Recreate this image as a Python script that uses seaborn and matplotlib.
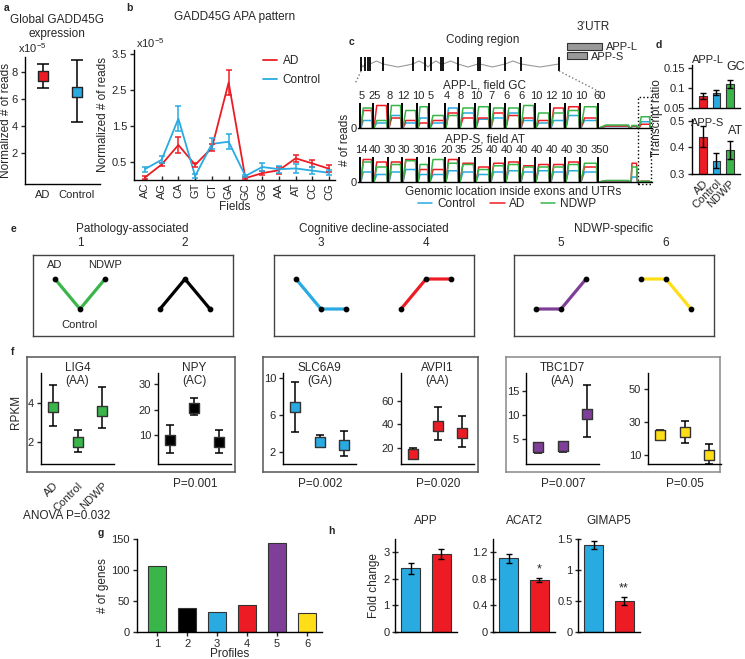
import numpy as np
import pandas as pd
import matplotlib
matplotlib.use("Agg")
import matplotlib.pyplot as plt
from matplotlib.patches import Rectangle
import seaborn as sns

# ---------------- data ----------------
RED, BLUE, GREEN = "#ED1C24", "#29ABE2", "#39B54A"
PURPLE, YELLOW, BLACK = "#7F3F98", "#FFDE17", "#000000"

# a: global expression
a_groups = ["AD", "Control"]
a_mean = [7.7, 6.5]
a_low = [6.8, 4.3]
a_high = [8.6, 8.9]

# b: APA pattern per field
b_fields = ["AC", "AG", "CA", "GT", "CT", "GA", "GC", "GG", "AA", "AT", "CC", "CG"]
b_ad = [0.07, 0.43, 0.97, 0.42, 0.89, 2.70, 0.05, 0.19, 0.27, 0.60, 0.46, 0.31]
b_ad_err = [0.04, 0.05, 0.22, 0.06, 0.10, 0.35, 0.03, 0.05, 0.10, 0.10, 0.10, 0.10]
b_ctrl = [0.30, 0.56, 1.70, 0.11, 1.00, 1.06, 0.11, 0.36, 0.30, 0.32, 0.26, 0.20]
b_ctrl_err = [0.07, 0.10, 0.35, 0.05, 0.15, 0.20, 0.04, 0.12, 0.10, 0.12, 0.10, 0.07]

# c: gene model and read coverage
exon_pos = [1, 5, 8, 10, 23, 53, 65, 71, 81, 83, 98, 118, 120, 145, 161, 199]
utr_len = [35, 20]
seg_len = [13, 15, 14, 15, 12, 16, 14, 16, 15, 15, 15, 15, 15, 15, 15, 18, 32, 8, 13]
appl_max = ["5", "25", "8", "12", "10", "5", "4", "8", "10", "7", "6", "6",
            "10", "12", "10", "10", "60"]
apps_max = ["14", "40", "30", "30", "30", "16", "20", "35", "25", "40", "40", "40",
            "40", "40", "40", "30", "350"]
appl_red = [0.70, 0.90, 0.40, 0.30, 0.20, 0.30, 0.60, 0.40, 0.40, 0.60, 0.50, 0.40,
            0.30, 0.80, 0.85, 0.40, 0.08, 0.08, 0.15]
appl_blue = [0.30, 0.20, 0.50, 0.20, 0.40, 0.20, 0.80, 0.60, 0.35, 0.40, 0.60, 0.30,
             0.20, 0.30, 0.50, 0.30, 0.06, 0.06, 0.25]
appl_green = [0.80, 0.30, 0.90, 0.70, 0.85, 0.50, 0.50, 0.80, 0.85, 0.80, 0.80, 0.90,
              0.60, 0.60, 0.70, 0.85, 0.12, 0.10, 0.45]
apps_red = [0.90, 0.80, 0.80, 0.90, 0.50, 0.50, 0.90, 0.75, 0.60, 0.75, 0.80, 0.65,
            0.70, 0.70, 0.80, 0.60, 0.05, 0.75, 0.03]
apps_blue = [0.40, 0.30, 0.40, 0.50, 0.30, 0.30, 0.45, 0.40, 0.30, 0.40, 0.45, 0.40,
             0.45, 0.40, 0.45, 0.40, 0.04, 0.20, 0.02]
apps_green = [0.80, 0.60, 0.70, 0.85, 0.70, 0.90, 0.75, 0.70, 0.50, 0.65, 0.70, 0.60,
              0.60, 0.60, 0.70, 0.75, 0.06, 0.60, 0.03]

# d: transcript ratio
d_groups = ["AD", "Control", "NDWP"]
d_appl = [0.080, 0.088, 0.110]
d_appl_err = [0.008, 0.006, 0.010]
d_apps = [0.440, 0.350, 0.390]
d_apps_err = [0.040, 0.028, 0.035]

# e: profiles
profile_levels = [[1, 0, 1], [0, 1, 0], [1, 0, 0], [0, 1, 1], [0, 0, 1], [1, 1, 0]]
profile_colors = [GREEN, BLACK, BLUE, RED, PURPLE, YELLOW]
e_titles = ["Pathology-associated", "Cognitive decline-associated", "NDWP-specific"]

# f: example genes
f_titles = ["LIG4\n(AA)", "NPY\n(AC)", "SLC6A9\n(GA)", "AVPI1\n(AA)", "TBC1D7\n(AA)", ""]
f_mean = [[3.8, 2.0, 3.6], [8.0, 20.5, 7.5], [6.8, 3.1, 2.8],
          [15, 39, 32.5], [3.3, 3.5, 10.3], [22, 24, 10]]
f_low = [[2.8, 1.5, 2.7], [3.0, 17.8, 3.0], [4.2, 2.6, 1.6],
         [12, 27, 21], [2.0, 2.3, 5.4], [19.5, 17, 4.5]]
f_high = [[4.9, 2.6, 4.8], [13.8, 24.5, 12.2], [9.5, 3.8, 4.3],
          [20, 55, 47], [4.0, 4.2, 16.2], [25, 30.5, 16.5]]
f_yticks = [[2, 4], [10, 20, 30], [2, 6, 10], [20, 40, 60], [5, 10, 15], [10, 30, 50]]
f_pvals = ["", "P=0.001", "P=0.002", "P=0.020", "P=0.007", "P=0.05"]

# g: genes per profile
g_profiles = ["1", "2", "3", "4", "5", "6"]
g_counts = [106, 38, 32, 43, 144, 31]

# h: qPCR
h_genes = ["APP", "ACAT2", "GIMAP5"]
h_ctrl = [2.40, 1.11, 1.40]
h_ctrl_err = [0.20, 0.07, 0.06]
h_ad = [2.93, 0.78, 0.50]
h_ad_err = [0.20, 0.03, 0.065]
h_stars = ["", "*", "**"]

# ---------------- style ----------------
sns.set_style("ticks")
plt.rcParams.update({
    "font.family": ["Liberation Sans", "DejaVu Sans"],
    "font.size": 8,
    "axes.linewidth": 1.0,
    "axes.edgecolor": "black",
    "xtick.major.size": 3, "ytick.major.size": 3,
    "xtick.major.width": 1.0, "ytick.major.width": 1.0,
    "xtick.major.pad": 2, "ytick.major.pad": 2,
    "xtick.labelsize": 8, "ytick.labelsize": 8,
    "axes.labelsize": 8.5,
    "mathtext.default": "regular",
})

W, H = 745, 659
fig = plt.figure(figsize=(W / 100, H / 100), dpi=100)


def px(x0, y0, x1, y1):
    return [x0 / W, 1 - y1 / H, (x1 - x0) / W, (y1 - y0) / H]


def ftext(x, y, s, **kw):
    kw.setdefault("ha", "center")
    kw.setdefault("va", "center")
    return fig.text(x / W, 1 - y / H, s, **kw)


def letter(x, y, s):
    ftext(x, y, s, fontsize=7.5, fontweight="bold", ha="left")


# ---------------- a ----------------
ax = fig.add_axes(px(25, 57, 100, 184))
a_df = pd.DataFrame({"x": [0, 1], "group": a_groups, "mean": a_mean})
ax.errorbar(a_df["x"], a_mean,
            yerr=[np.subtract(a_mean, a_low), np.subtract(a_high, a_mean)],
            fmt="none", ecolor="black", elinewidth=1.1, capsize=4, capthick=1.1, zorder=1)
sns.scatterplot(data=a_df, x="x", y="mean", hue="group", palette=[RED, BLUE], marker="s",
                s=55, edgecolor="#222222", linewidth=1, legend=False, ax=ax, zorder=3)
ax.set_xlim(-0.53, 1.68)
ax.set_ylim(-0.3, 9.1)
ax.set_xticks([0, 1], a_groups)
ax.tick_params(axis="x", length=0, pad=4)
ax.set_yticks([2, 4, 6, 8])
ax.set_xlabel("")
ax.set_ylabel("Normalized # of reads")
ax.yaxis.set_label_coords(-0.17, 0.5)
sns.despine(ax=ax)
ftext(57, 27, "Global GADD45G\nexpression", fontsize=8.5, linespacing=1.3)
ftext(18, 48, r"x10$^{-5}$", ha="left")
letter(4, 8, "a")

# ---------------- b ----------------
ax = fig.add_axes(px(134, 50, 335, 180))
b_df = pd.DataFrame({"x": list(range(12)) * 2, "value": b_ad + b_ctrl,
                     "err": b_ad_err + b_ctrl_err,
                     "group": ["AD"] * 12 + ["Control"] * 12})
sns.lineplot(data=b_df, x="x", y="value", hue="group", palette=[RED, BLUE],
             linewidth=1.3, ax=ax)
for g, col in zip(["AD", "Control"], [RED, BLUE]):
    sub = b_df[b_df["group"] == g]
    ax.errorbar(sub["x"], sub["value"], yerr=sub["err"], fmt="none", ecolor=col,
                elinewidth=1.1, capsize=2.5, capthick=1.1)
ax.set_xlim(-0.65, 11.35)
ax.set_ylim(0, 3.6)
ax.set_xticks(range(12), b_fields, rotation=90)
ax.set_yticks([0.5, 1.5, 2.5, 3.5])
ax.tick_params(axis="x", direction="in")
ax.set_xlabel("Fields", labelpad=1)
ax.set_ylabel("Normalized # of reads", labelpad=2)
hd, lb = ax.get_legend_handles_labels()
ax.legend(hd, lb, loc="upper left", bbox_to_anchor=(0.64, 0.96), frameon=False,
          handlelength=1.2, handletextpad=0.5, labelspacing=0.6, borderpad=0,
          borderaxespad=0, fontsize=8.5)
sns.despine(ax=ax)
ftext(235, 17, "GADD45G APA pattern", fontsize=8.5)
ftext(136, 43, r"x10$^{-5}$", ha="left")
letter(126, 8, "b")

# ---------------- c ----------------
axg = fig.add_axes(px(355, 20, 655, 80))
axg.set_xlim(-5, 295)
axg.set_ylim(60, 0)
axg.axis("off")
for i in range(len(exon_pos) - 1):
    x0, x1 = exon_pos[i], exon_pos[i + 1]
    if x1 - x0 > 3:
        bend = 3 if i % 2 == 0 else -3
        axg.plot([x0, (x0 + x1) / 2, x1], [44, 44 + bend, 44], color="#9a9a9a", lw=0.8)
axg.vlines(exon_pos, 37, 51, color="black", lw=1.3)
axg.add_patch(Rectangle((207, 23), utr_len[0], 7, fc="#999999", ec="#333333", lw=0.8))
axg.add_patch(Rectangle((207, 32), utr_len[1], 7, fc="#999999", ec="#333333", lw=0.8))
axg.text(123, 20, "Coding region", ha="center", va="center", fontsize=8.5)
axg.text(233, 7, "3\u2019UTR", ha="center", va="center", fontsize=8.5)
axg.text(246, 26.5, "APP-L", ha="left", va="center", fontsize=8)
axg.text(231, 37, "APP-S", ha="left", va="center", fontsize=8)

starts = np.concatenate([[0], np.cumsum(seg_len)[:-1]])
total = sum(seg_len)
axg.plot([exon_pos[0], exon_pos[0] - 6], [51, 64], ls=":", color="#777777", lw=1,
         clip_on=False)
axg.plot([exon_pos[-1], starts[16] + 2], [51, 72], ls=":", color="#777777", lw=1,
         clip_on=False)

tracks = [
    (103, 128, "APP-L, field GC", appl_max, [appl_blue, appl_red, appl_green]),
    (157, 182, "APP-S, field AT", apps_max, [apps_blue, apps_red, apps_green]),
]
for y0, y1, title, maxes, levels in tracks:
    ax = fig.add_axes(px(358, y0, 652, y1))
    for col, lv, lab in zip([BLUE, RED, GREEN], levels, ["Control", "AD", "NDWP"]):
        xs, ys = [], []
        for s, w, l in zip(starts, seg_len, lv):
            xs += [s + 1, s + 0.25 * w, s + w - 1.5, s + w - 0.5]
            ys += [0, l, l, 0]
        ax.plot(xs, ys, color=col, lw=1.1, label=lab)
    ax.vlines(starts[:17], 0, 1, color="black", lw=1.4)
    for s, m in zip(starts[:17], maxes):
        ax.text(s + 1.5, 1.08, m, ha="center", va="bottom", fontsize=8)
    ax.set_xlim(-2, 292)
    ax.set_ylim(0, 1)
    ax.set_xticks([])
    ax.set_yticks([0])
    ax.tick_params(axis="y", length=0, pad=1)
    for sp in ["top", "right", "left"]:
        ax.spines[sp].set_visible(False)
    ftext(485, y0 - 18, title, fontsize=8.5)
ax.add_patch(Rectangle((starts[18], -0.08), seg_len[18], 3.48, fc="none", ec="black",
                       ls=":", lw=1, clip_on=False))
hd, lb = ax.get_legend_handles_labels()
fig.legend(hd, lb, loc="center", bbox_to_anchor=(507 / W, 1 - 204 / H), ncol=3,
           frameon=False, handlelength=1.2, handletextpad=0.4, columnspacing=1.3,
           fontsize=8.5)
ftext(513, 192, "Genomic location inside exons and UTRs", fontsize=8.5)
ftext(345, 140, "# of reads", rotation=90, fontsize=8.5)
letter(349, 42, "c")

# ---------------- d ----------------
d_axes = [
    (65, 108, d_appl, d_appl_err, (0.05, 0.1575), [0.05, 0.1, 0.15], ["0.05", "0.1", "0.15"],
     "APP-L", "GC"),
    (119, 174, d_apps, d_apps_err, (0.3, 0.5075), [0.3, 0.4, 0.5], ["0.3", "0.4", "0.5"],
     "APP-S", "AT"),
]
d_label_y = [(60, 67), (123, 131)]
for k, (y0, y1, vals, errs, yl, yt, ytl, t1, t2) in enumerate(d_axes):
    ax = fig.add_axes(px(692, y0, 740, y1))
    sns.barplot(x=d_groups, y=vals, hue=d_groups, palette=[RED, BLUE, GREEN],
                legend=False, width=0.55, saturation=1, edgecolor="#333333",
                linewidth=0.8, ax=ax)
    ax.errorbar(range(3), vals, yerr=errs, fmt="none", ecolor="black", elinewidth=1,
                capsize=2, capthick=1)
    ax.set_xlim(-0.8, 2.75)
    ax.set_ylim(*yl)
    ax.set_yticks(yt, ytl)
    if k == 0:
        ax.set_xticks([])
    else:
        ax.set_xticks(range(3), d_groups, rotation=45, ha="right", rotation_mode="anchor")
        ax.tick_params(axis="x", length=0, pad=3)
    sns.despine(ax=ax)
    ftext(708, d_label_y[k][0], t1, fontsize=8)
    ftext(736, d_label_y[k][1], t2, fontsize=9)
ftext(657, 118, "Transcript ratio", rotation=90, fontsize=8.5)
letter(656, 45, "d")

# ---------------- e ----------------
e_left = [33, 274, 514]
for k in range(3):
    ax = fig.add_axes(px(e_left[k], 255, e_left[k] + 200, 336))
    for j in range(2):
        p = 2 * k + j
        xs = np.arange(3) + 4.2 * j
        sns.lineplot(x=xs, y=profile_levels[p], color=profile_colors[p], lw=2.3, ax=ax)
        ax.scatter(xs, profile_levels[p], color="black", s=10, zorder=3)
        ax.text(1 + 4.2 * j, 2.2, str(p + 1), ha="center", va="center", fontsize=8.5,
                clip_on=False)
    ax.text(3.1, 2.68, e_titles[k], ha="center", va="center", fontsize=8.5, clip_on=False)
    ax.set_xlim(-0.88, 7.12)
    ax.set_ylim(-0.9, 1.8)
    ax.set_xticks([])
    ax.set_yticks([])
    for sp in ax.spines.values():
        sp.set_edgecolor("#444444")
    if k == 0:
        ax.text(0, 1.45, "AD", ha="center", va="center", fontsize=8)
        ax.text(2, 1.45, "NDWP", ha="center", va="center", fontsize=8)
        ax.text(1, -0.55, "Control", ha="center", va="center", fontsize=8)
letter(11, 229, "e")

# ---------------- f ----------------
f_boxes = [(27, 235, "#555555"), (263, 478, "#555555"), (506, 720, "#888888")]
for x0, x1, ec in f_boxes:
    bx = fig.add_axes(px(x0, 357, x1, 472))
    bx.set_xticks([])
    bx.set_yticks([])
    bx.set_facecolor("none")
    for sp in bx.spines.values():
        sp.set_edgecolor(ec)
        sp.set_linewidth(1.1)

f_left = [41, 158, 283, 401, 526, 648]
f_ylim = [(0.87, 5.54), (-1.2, 34.2), (0.7, 10.5), (6.4, 83.8), (-0.2, 18.75), (4.5, 59.7)]
f_colors = [GREEN, BLACK, BLUE, RED, PURPLE, YELLOW]
for i in range(6):
    L = f_left[i]
    ax = fig.add_axes(px(L, 373, L + 73, 464))
    ax.set_facecolor("none")
    m = f_mean[i]
    df = pd.DataFrame({"x": [0, 1, 2], "value": m, "group": ["AD", "Control", "NDWP"]})
    ax.errorbar(df["x"], m, yerr=[np.subtract(m, f_low[i]), np.subtract(f_high[i], m)],
                fmt="none", ecolor="black", elinewidth=1.1, capsize=3, capthick=1.1, zorder=1)
    sns.scatterplot(data=df, x="x", y="value", color=f_colors[i], marker="s", s=55,
                    edgecolor="#333333", linewidth=1, legend=False, ax=ax, zorder=3)
    ax.set_xlim(-0.49, 2.49)
    ax.set_ylim(*f_ylim[i])
    ax.set_yticks(f_yticks[i])
    ax.set_xlabel("")
    ax.set_ylabel("")
    if i == 0:
        ax.set_xticks([0, 1, 2], ["AD", "Control", "NDWP"], rotation=45, ha="right",
                      rotation_mode="anchor")
        ax.tick_params(axis="x", length=0, pad=12)
    else:
        ax.set_xticks([])
    sns.despine(ax=ax)
    if f_titles[i]:
        ax.text(0.5, 0.985, f_titles[i], ha="center", va="center", fontsize=8.5,
                linespacing=1.05, transform=ax.transAxes)
    if f_pvals[i]:
        ftext(L + 37, 484, f_pvals[i], fontsize=8.5)
ftext(16, 412, "RPKM", rotation=90, fontsize=8.5)
ftext(67, 516, "ANOVA P=0.032", fontsize=8.5)
letter(11, 352, "f")

# ---------------- g ----------------
ax = fig.add_axes(px(137, 539, 322, 632))
sns.barplot(x=g_profiles, y=g_counts, hue=g_profiles, palette=profile_colors,
            legend=False, width=0.6, saturation=1, edgecolor="#333333", linewidth=0.8,
            ax=ax)
ax.set_xlim(-0.67, 5.5)
ax.set_ylim(0, 150)
ax.set_yticks([0, 50, 100, 150])
ax.set_xlabel("Profiles", labelpad=-1)
ax.set_ylabel("# of genes", labelpad=2)
sns.despine(ax=ax)
letter(98, 533, "g")

# ---------------- h ----------------
h_left = [395, 493, 578]
h_ylim = [3.5, 1.4, 1.5]
h_yt = [[0, 1, 2, 3], [0, 0.4, 0.8, 1.2], [0, 0.5, 1, 1.5]]
h_ytl = [["0", "1", "2", "3"], ["0", "0.4", "0.8", "1.2"], ["0", "0.5", "1", "1.5"]]
for i in range(3):
    ax = fig.add_axes(px(h_left[i], 539, h_left[i] + 62, 632))
    vals = [h_ctrl[i], h_ad[i]]
    errs = [h_ctrl_err[i], h_ad_err[i]]
    sns.barplot(x=["Control", "AD"], y=vals, hue=["Control", "AD"], palette=[BLUE, RED],
                legend=False, width=0.63, saturation=1, edgecolor="#333333",
                linewidth=0.8, ax=ax)
    ax.errorbar([0, 1], vals, yerr=errs, fmt="none", ecolor="black", elinewidth=1,
                capsize=2, capthick=1)
    if h_stars[i]:
        ax.text(1, h_ad[i] + h_ad_err[i] + 0.03 * h_ylim[i], h_stars[i], ha="center",
                va="bottom", fontsize=9)
    ax.set_xlim(-0.53, 1.53)
    ax.set_ylim(0, h_ylim[i])
    ax.set_yticks(h_yt[i], h_ytl[i])
    ax.set_xticks([])
    ax.tick_params(axis="y", direction="inout", length=4)
    sns.despine(ax=ax)
    ax.set_title(h_genes[i], fontsize=8.5, pad=11)
ftext(374, 586, "Fold change", rotation=90, fontsize=8.5)
letter(328, 531, "h")

fig.savefig("out.png", dpi=100)
